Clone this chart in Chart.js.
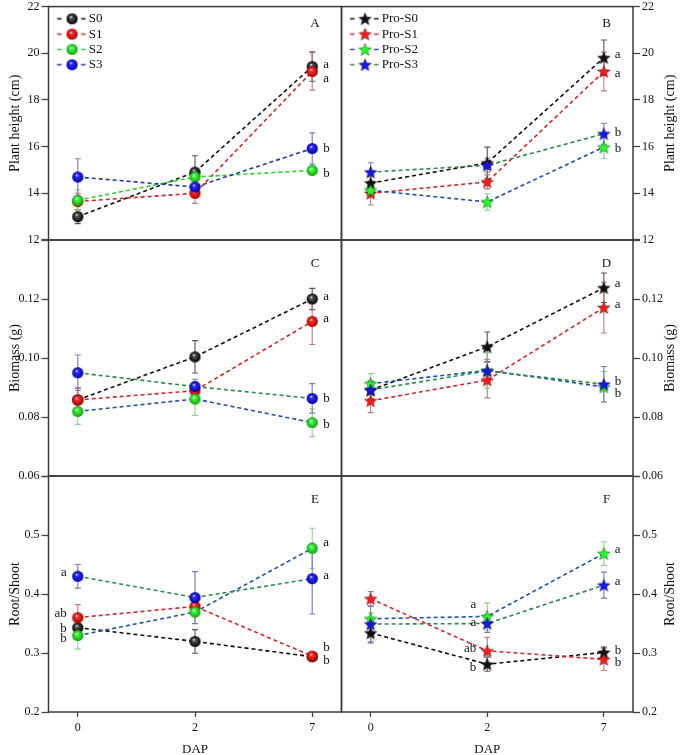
<!DOCTYPE html>
<html>
<head>
<meta charset="utf-8">
<title>Plant height, biomass and root/shoot</title>
<script src="https://cdn.jsdelivr.net/npm/chart.js@4"></script>
<style>
    body { margin: 0; background: #fff; }
    #wrap { position: relative; width: 685px; height: 755px; }
    #wrap canvas { position: absolute; left: 0; top: 0; }
</style>
</head>
<body>
<div id="wrap">
    <canvas id="cA" width="685" height="755"></canvas>
    <canvas id="cB" width="685" height="755"></canvas>
    <canvas id="cC" width="685" height="755"></canvas>
    <canvas id="cD" width="685" height="755"></canvas>
    <canvas id="cE" width="685" height="755"></canvas>
    <canvas id="cF" width="685" height="755"></canvas>
</div>
<script>
    // x categories (days after planting)
    const dap = ['0', '2', '7'];
    const soilNames = ['S0', 'S1', 'S2', 'S3'];
    const proNames = ['Pro-S0', 'Pro-S1', 'Pro-S2', 'Pro-S3'];

    // one row per treatment, values at DAP 0, 2, 7
    const heightS = [[13.0, 14.91, 19.43], [13.65, 14.0, 19.22], [13.7, 14.7, 14.98], [14.7, 14.27, 15.92]];
    const heightSErr = [[0.3, 0.7, 0.63], [0.35, 0.43, 0.8], [0.45, 0.3, 0.12], [0.78, 0.3, 0.67]];
    const heightPro = [[14.44, 15.3, 19.81], [14.0, 14.49, 19.22], [14.13, 13.63, 15.98], [14.91, 15.2, 16.55]];
    const heightProErr = [[0.3, 0.68, 0.76], [0.5, 0.3, 0.83], [0.3, 0.35, 0.5], [0.4, 0.3, 0.45]];

    const biomassS = [[0.0858, 0.1004, 0.1200], [0.0858, 0.0889, 0.1124], [0.0819, 0.0861, 0.0781], [0.0950, 0.0903, 0.0863]];
    const biomassSErr = [[0.004, 0.0055, 0.0036], [0.004, 0.003, 0.0078], [0.0044, 0.0056, 0.0047], [0.006, 0.0025, 0.005]];
    const biomassPro = [[0.0891, 0.1038, 0.1238], [0.0855, 0.0925, 0.1171], [0.0913, 0.0958, 0.0902], [0.0892, 0.0956, 0.0911]];
    const biomassProErr = [[0.003, 0.005, 0.005], [0.004, 0.006, 0.0086], [0.0034, 0.006, 0.0052], [0.003, 0.004, 0.006]];

    const rootShootS = [[0.343, 0.3196, 0.2937], [0.360, 0.379, 0.2948], [0.3296, 0.3693, 0.4774], [0.430, 0.394, 0.426]];
    const rootShootSErr = [[0.01, 0.02, 0.004], [0.022, 0.01, 0.004], [0.023, 0.02, 0.034], [0.02, 0.044, 0.06]];
    const rootShootPro = [[0.334, 0.281, 0.301], [0.392, 0.3036, 0.2893], [0.358, 0.362, 0.4686], [0.349, 0.350, 0.415]];
    const rootShootProErr = [[0.017, 0.012, 0.009], [0.012, 0.023, 0.019], [0.01, 0.023, 0.02], [0.03, 0.015, 0.022]];

    // significance letters: [x index, y value, text, side]
    const sigA = [[2, 19.53, 'a', 'r'], [2, 18.9, 'a', 'r'], [2, 15.91, 'b', 'r'], [2, 14.85, 'b', 'r']];
    const sigB = [[2, 19.96, 'a', 'r'], [2, 19.15, 'a', 'r'], [2, 16.6, 'b', 'r'], [2, 15.91, 'b', 'r']];
    const sigC = [[2, 0.1207, 'a', 'r'], [2, 0.1132, 'a', 'r'], [2, 0.0864, 'b', 'r'], [2, 0.0773, 'b', 'r']];
    const sigD = [[2, 0.1251, 'a', 'r'], [2, 0.118, 'a', 'r'], [2, 0.0919, 'b', 'r'], [2, 0.0881, 'b', 'r']];
    const sigE = [[0, 0.4356, 'a', 'l'], [0, 0.366, 'ab', 'l'], [0, 0.342, 'b', 'l'], [0, 0.325, 'b', 'l'],
                  [2, 0.4864, 'a', 'r'], [2, 0.432, 'a', 'r'], [2, 0.3085, 'b', 'r'], [2, 0.288, 'b', 'r']];
    const sigF = [[1, 0.3814, 'a', 'l'], [1, 0.3508, 'a', 'l'], [1, 0.3068, 'ab', 'l'], [1, 0.2746, 'b', 'l'],
                  [2, 0.4746, 'a', 'r'], [2, 0.4203, 'a', 'r'], [2, 0.3034, 'b', 'r'], [2, 0.2831, 'b', 'r']];

    const FONT = "'Liberation Serif', 'Times New Roman', serif";
    const PAGE_W = 685, PAGE_H = 755;
    const COL_X = [48.5, 341.5, 633];
    const ROW_Y = [5, 240, 476, 712];

    const markerFill = [['#555', '#000'], ['#ff3030', '#a80000'], ['#40ff40', '#10a010'], ['#3030ff', '#0000a0']];
    const starFill = ['#111111', '#ff1a1a', '#22ff22', '#1515ee'];
    const lineColorsA = ['#111111', '#cc2a2a', '#2ed12e', '#1f3a9c'];
    const lineColorsB = ['#111111', '#cc2a2a', '#1f4fa8', '#2a8a4a'];
    const errColors = ['#555555', '#c07a7a', '#8fcf8f', '#7a7ab0'];

    function sphereImage(i) {
        const s = 13, c = document.createElement('canvas');
        c.width = c.height = s;
        const g = c.getContext('2d');
        const grad = g.createRadialGradient(s / 2 - 1.2, s / 2 - 1.8, 0.3, s / 2, s / 2, 5.6);
        grad.addColorStop(0, '#ffffff');
        grad.addColorStop(0.2, markerFill[i][0]);
        grad.addColorStop(1, markerFill[i][1]);
        g.beginPath();
        g.arc(s / 2, s / 2, 5.6, 0, Math.PI * 2);
        g.fillStyle = grad;
        g.fill();
        return c;
    }

    function starImage(i) {
        const s = 15, c = document.createElement('canvas');
        c.width = c.height = s;
        const g = c.getContext('2d');
        g.beginPath();
        for (let k = 0; k < 10; k++) {
            const rad = k % 2 ? 2.9 : 6.6;
            const a = -Math.PI / 2 + k * Math.PI / 5;
            g.lineTo(s / 2 + rad * Math.cos(a), s / 2 + 0.6 + rad * Math.sin(a));
        }
        g.closePath();
        g.fillStyle = starFill[i];
        g.fill();
        g.strokeStyle = 'rgba(0,0,0,0.55)';
        g.lineWidth = 0.7;
        g.stroke();
        return c;
    }

    function legendImage(marker, color) {
        const c = document.createElement('canvas');
        c.width = 40; c.height = 15;
        const g = c.getContext('2d');
        g.strokeStyle = color;
        g.lineWidth = 1.6;
        g.beginPath();
        g.moveTo(10.5, 7.5); g.lineTo(15, 7.5);
        g.moveTo(34.5, 7.5); g.lineTo(39, 7.5);
        g.stroke();
        g.drawImage(marker, 25.5 - marker.width / 2, 7.5 - marker.height / 2);
        return c;
    }

    const frame = {
        id: 'frame',
        afterDraw(chart) {
            const a = chart.chartArea, ctx = chart.ctx;
            ctx.save();
            ctx.strokeStyle = '#3a3a3a';
            ctx.lineWidth = 1.5;
            ctx.strokeRect(a.left, a.top, a.right - a.left, a.bottom - a.top);
            ctx.restore();
        }
    };

    const errorBars = {
        id: 'errorBars',
        beforeDatasetsDraw(chart) {
            const ctx = chart.ctx, xs = chart.scales.x, ys = chart.scales.y;
            chart.data.datasets.forEach(ds => {
                ctx.save();
                ctx.strokeStyle = ds.errorColor;
                ctx.lineWidth = 1.1;
                ds.data.forEach((pt, j) => {
                    const e = ds.errors[j];
                    const px = xs.getPixelForValue(pt.x);
                    const top = ys.getPixelForValue(pt.y + e), bot = ys.getPixelForValue(pt.y - e);
                    ctx.beginPath();
                    ctx.moveTo(px, top); ctx.lineTo(px, bot);
                    ctx.moveTo(px - 3, top); ctx.lineTo(px + 3, top);
                    ctx.moveTo(px - 3, bot); ctx.lineTo(px + 3, bot);
                    ctx.stroke();
                });
                ctx.restore();
            });
        }
    };

    const letters = {
        id: 'letters',
        afterDatasetsDraw(chart, args, opts) {
            const ctx = chart.ctx, xs = chart.scales.x, ys = chart.scales.y, a = chart.chartArea;
            ctx.save();
            ctx.fillStyle = '#111';
            ctx.font = '13px ' + FONT;
            ctx.textBaseline = 'middle';
            opts.sig.forEach(([xi, yv, t, side]) => {
                ctx.textAlign = side === 'r' ? 'left' : 'right';
                ctx.fillText(t, xs.getPixelForValue(xi) + (side === 'r' ? 11 : -11), ys.getPixelForValue(yv));
            });
            ctx.textAlign = 'center';
            ctx.fillText(opts.panel, a.right - 26.5, a.top + opts.panelDy);
            if (opts.sideTitle) {
                ctx.font = '14px ' + FONT;
                ctx.translate(a.right + 37, (a.top + a.bottom) / 2);
                ctx.rotate(-Math.PI / 2);
                ctx.fillText(opts.sideTitle, 0, 0);
            }
            ctx.restore();
        }
    };

    const panels = [
        {id: 'cA', col: 0, row: 0, values: heightS, errors: heightSErr, names: soilNames, star: false, lines: lineColorsA,
         min: 12, max: 22, step: 2, dec: 0, title: 'Plant height (cm)', panel: 'A', sig: sigA, legend: true},
        {id: 'cB', col: 1, row: 0, values: heightPro, errors: heightProErr, names: proNames, star: true, lines: lineColorsB,
         min: 12, max: 22, step: 2, dec: 0, title: 'Plant height (cm)', panel: 'B', sig: sigB, legend: true},
        {id: 'cC', col: 0, row: 1, values: biomassS, errors: biomassSErr, names: soilNames, star: false, lines: lineColorsB,
         min: 0.06, max: 0.14, step: 0.02, dec: 2, title: 'Biomass (g)', panel: 'C', sig: sigC, legend: false},
        {id: 'cD', col: 1, row: 1, values: biomassPro, errors: biomassProErr, names: proNames, star: true, lines: lineColorsB,
         min: 0.06, max: 0.14, step: 0.02, dec: 2, title: 'Biomass (g)', panel: 'D', sig: sigD, legend: false},
        {id: 'cE', col: 0, row: 2, values: rootShootS, errors: rootShootSErr, names: soilNames, star: false, lines: lineColorsB,
         min: 0.2, max: 0.6, step: 0.1, dec: 1, title: 'Root/Shoot', panel: 'E', sig: sigE, legend: false},
        {id: 'cF', col: 1, row: 2, values: rootShootPro, errors: rootShootProErr, names: proNames, star: true, lines: lineColorsB,
         min: 0.2, max: 0.6, step: 0.1, dec: 1, title: 'Root/Shoot', panel: 'F', sig: sigF, legend: false}
    ];

    const tickFont = {family: FONT, size: 12};

    panels.forEach(p => {
        const right = p.col === 1;
        const bottomRow = p.row === 2;
        const datasets = p.values.map((vals, i) => {
            const marker = p.star ? starImage(i) : sphereImage(i);
            return {
                label: p.names[i],
                data: vals.map((v, j) => ({x: j, y: v})),
                errors: p.errors[i],
                errorColor: errColors[i],
                legendIcon: legendImage(marker, p.lines[i]),
                borderColor: p.lines[i],
                borderWidth: 1.6,
                borderDash: [4, 3],
                pointStyle: marker,
                pointRadius: 5,
                order: 3 - i,
                fill: false,
                tension: 0
            };
        });

        new Chart(document.getElementById(p.id), {
            type: 'line',
            data: {datasets},
            options: {
                responsive: false,
                animation: false,
                events: [],
                layout: {
                    padding: {
                        left: right ? COL_X[1] : 0,
                        right: right ? 0 : PAGE_W - COL_X[1],
                        top: ROW_Y[p.row],
                        bottom: bottomRow ? 0 : PAGE_H - ROW_Y[p.row + 1]
                    }
                },
                scales: {
                    x: {
                        type: 'linear', min: -0.25, max: 2.25,
                        display: bottomRow,
                        afterBuildTicks: s => { s.ticks = dap.map((_, i) => ({value: i})); },
                        ticks: {callback: v => dap[v], font: tickFont, color: '#111', padding: 4, maxRotation: 0, autoSkip: false},
                        grid: {drawOnChartArea: false, tickLength: 5, tickColor: '#444', tickWidth: 1.3},
                        border: {display: false},
                        title: {display: true, text: 'DAP', color: '#111', font: {family: FONT, size: 13, lineHeight: 0.77}, padding: 0},
                        afterFit: s => {
                            s.height = bottomRow ? PAGE_H - ROW_Y[3] : 0;
                            s.paddingLeft = 0;
                            s.paddingRight = 0;
                        }
                    },
                    y: {
                        type: 'linear', position: right ? 'right' : 'left',
                        min: p.min, max: p.max,
                        ticks: {
                            stepSize: p.step, color: '#111', font: tickFont, padding: 2,
                            callback: v => (p.row > 0 && v > p.max - p.step / 2) ? '' : v.toFixed(p.dec)
                        },
                        grid: {drawOnChartArea: false, tickLength: 7, tickColor: '#444', tickWidth: 1.3},
                        border: {display: false},
                        title: {display: !right, text: p.title, color: '#111', font: {family: FONT, size: 14}, padding: {top: 6.6, bottom: 0}},
                        afterFit: s => { s.width = right ? PAGE_W - COL_X[2] : COL_X[0]; s.paddingTop = 0; s.paddingBottom = 0; }
                    }
                },
                plugins: {
                    tooltip: {enabled: false},
                    legend: {
                        display: p.legend,
                        position: 'chartArea',
                        align: 'start',
                        title: {display: true, text: ' ', font: {size: 10, lineHeight: 1}, padding: 0},
                        labels: {
                            usePointStyle: true,
                            pointStyleWidth: 31.5,
                            padding: 2.3,
                            color: '#111',
                            font: {family: FONT, size: 13},
                            generateLabels: chart => chart.data.datasets.map((ds, i) => ({
                                text: ds.label,
                                pointStyle: ds.legendIcon,
                                fillStyle: 'transparent',
                                strokeStyle: 'transparent',
                                lineWidth: 0,
                                hidden: false,
                                datasetIndex: i,
                                fontColor: '#111'
                            }))
                        }
                    },
                    letters: {sig: p.sig, panel: p.panel, panelDy: p.row === 0 ? 17 : 24, sideTitle: right ? p.title : null}
                }
            },
            plugins: [errorBars, letters, frame]
        });
    });
</script>
</body>
</html>
